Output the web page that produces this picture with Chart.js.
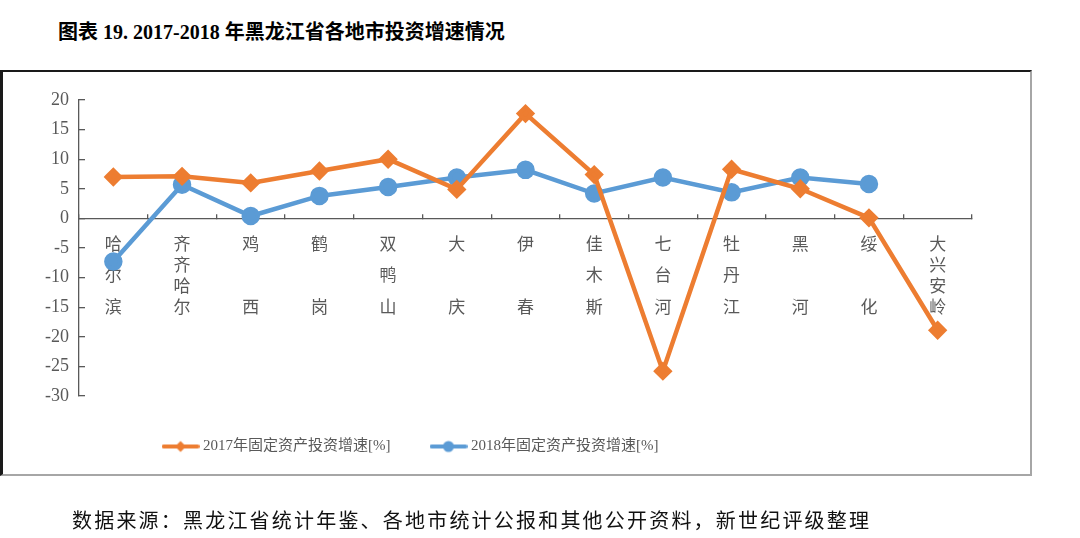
<!DOCTYPE html>
<html>
<head>
<meta charset="utf-8">
<script src="https://cdn.jsdelivr.net/npm/chart.js@4.4.1/dist/chart.umd.min.js"></script>
<style>
  html, body { margin: 0; padding: 0; background: #fff; }
  body { width: 1080px; height: 538px; position: relative; overflow: hidden; }
  #title { position: absolute; left: 58px; top: 16px; font: bold 20px "Liberation Serif", "Noto Sans CJK SC"; color: #000; white-space: nowrap; }
  #frame { position: absolute; left: 0; top: 70px; width: 1032px; height: 406px; box-sizing: border-box;
           border-top: 2px solid #1a1a1a; border-left: 3px solid #1a1a1a; border-right: 2px solid #a6a6a6; border-bottom: 2px solid #a6a6a6; }
  #wrap { position: absolute; left: 0; top: 0; width: 1080px; height: 538px; }
  #source { position: absolute; left: 72px; top: 505px; font: 20px "Noto Sans CJK SC"; letter-spacing: 2.2px; color: #111; white-space: nowrap; }
</style>
</head>
<body>
<div id="title">图表 19. 2017-2018 年黑龙江省各地市投资增速情况</div>
<div id="frame"></div>
<div id="wrap"><canvas id="chart"></canvas></div>
<div id="source">数据来源：黑龙江省统计年鉴、各地市统计公报和其他公开资料，新世纪评级整理</div>
<script>
// data
const cities = ['哈尔滨', '齐齐哈尔', '鸡西', '鹤岗', '双鸭山', '大庆', '伊春', '佳木斯', '七台河', '牡丹江', '黑河', '绥化', '大兴安岭'];
const growth2017 = [7.0, 7.1, 6.0, 8.0, 10.0, 4.9, 17.7, 7.4, -25.8, 8.3, 5.0, 0.1, -18.9];
const growth2018 = [-7.3, 5.7, 0.4, 3.8, 5.3, 6.9, 8.2, 4.2, 6.9, 4.4, 6.9, 5.8, null];
const seriesNames = ['2017年固定资产投资增速[%]', '2018年固定资产投资增速[%]'];
const yMin = -30, yMax = 20, yStep = 5;

const ORANGE = '#ED7D31';
const BLUE = '#5B9BD5';
const AXIS = '#595959';

// city names stacked vertically, spread over 7 rows like the excel labels
function verticalLabel(name) {
  const chars = Array.from(name);
  const rows = new Array(7).fill('');
  const step = 6 / (chars.length - 1);
  chars.forEach((c, i) => { rows[Math.round(i * step)] = c; });
  return rows;
}

// line + marker icon for the legend
function legendIcon(color, shape) {
  const c = document.createElement('canvas');
  c.width = 38; c.height = 14;
  const g = c.getContext('2d');
  g.strokeStyle = color; g.fillStyle = color; g.lineWidth = 4; g.lineCap = 'round';
  g.beginPath(); g.moveTo(2, 7); g.lineTo(36, 7); g.stroke();
  g.beginPath();
  if (shape === 'diamond') {
    g.moveTo(19, 1.5); g.lineTo(24.5, 7); g.lineTo(19, 12.5); g.lineTo(13.5, 7); g.closePath();
  } else {
    g.arc(19, 7, 5.5, 0, Math.PI * 2);
  }
  g.fill();
  return c;
}
const icons = [legendIcon(ORANGE, 'diamond'), legendIcon(BLUE, 'circle')];

// excel put the legend left of centre
const shiftLegend = {
  id: 'shiftLegend',
  afterLayout(chart) {
    const lg = chart.legend;
    const d = 412 - (lg.left + lg.right) / 2;
    lg.left += d;
    lg.right += d;
  }
};

new Chart(document.getElementById('chart'), {
  type: 'line',
  data: {
    labels: cities,
    datasets: [
      {
        label: seriesNames[0],
        data: growth2017,
        borderColor: ORANGE,
        backgroundColor: ORANGE,
        borderWidth: 4.5,
        pointStyle: 'rectRot',
        pointRadius: 6.5,
        pointHoverRadius: 6.5,
        tension: 0
      },
      {
        label: seriesNames[1],
        data: growth2018,
        borderColor: BLUE,
        backgroundColor: BLUE,
        borderWidth: 4.5,
        pointStyle: 'circle',
        pointRadius: 7,
        pointHoverRadius: 7,
        tension: 0
      }
    ]
  },
  options: {
    responsive: true,
    maintainAspectRatio: false,
    animation: false,
    layout: { padding: { top: 100, right: 108, bottom: 74, left: 0 } },
    scales: {
      x: {
        type: 'category',
        offset: true,
        position: { y: 0 },
        grid: { display: true, drawOnChartArea: false, drawTicks: true, tickLength: -5, offset: true, color: AXIS, lineWidth: 1.3 },
        border: { display: true, color: AXIS, width: 1.3 },
        ticks: {
          color: AXIS,
          autoSkip: false,
          maxRotation: 0,
          padding: 24.5,
          font: { family: '"Noto Sans CJK SC"', size: 17, lineHeight: '10.5px' },
          callback: function (v) { return verticalLabel(this.getLabelForValue(v)); }
        },
        afterFit(s) { s.height = 0; }
      },
      y: {
        min: yMin,
        max: yMax,
        grid: { display: true, drawOnChartArea: false, drawTicks: true, tickLength: -6, color: AXIS, lineWidth: 1.3 },
        border: { display: true, color: AXIS, width: 1.3 },
        ticks: {
          stepSize: yStep,
          color: AXIS,
          padding: 16,
          font: { family: '"Liberation Serif"', size: 18 }
        },
        afterFit(s) { s.width = 79; }
      }
    },
    plugins: {
      legend: {
        display: true,
        position: 'bottom',
        labels: {
          usePointStyle: true,
          pointStyleWidth: 30,
          padding: 43,
          color: AXIS,
          font: { family: '"Liberation Serif", "Noto Sans CJK SC"', size: 15 },
          generateLabels(chart) {
            const items = Chart.defaults.plugins.legend.labels.generateLabels(chart);
            items.forEach((it, i) => { it.pointStyle = icons[i]; });
            return items;
          }
        }
      },
      tooltip: { enabled: false }
    }
  },
  plugins: [shiftLegend]
});
</script>
</body>
</html>
